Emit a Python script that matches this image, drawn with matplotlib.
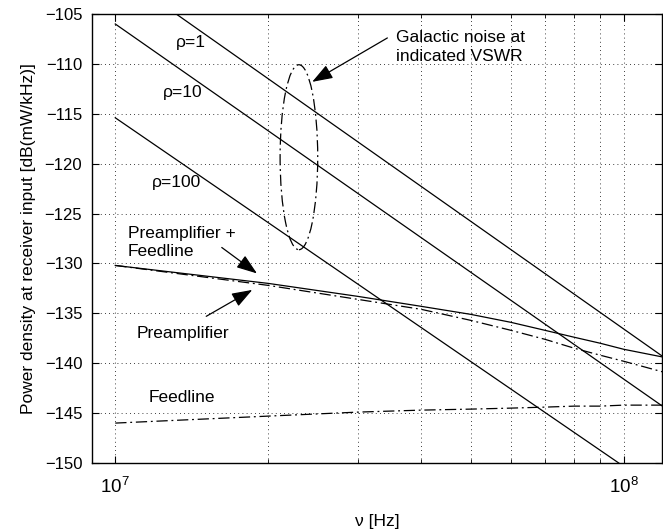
import matplotlib
matplotlib.use("Agg")
import matplotlib.pyplot as plt
from matplotlib.patches import Ellipse

plt.rcParams['font.family'] = ['Liberation Sans', 'DejaVu Sans']

# frequency grid [Hz]
freq = [1e7, 2e7, 3e7, 4e7, 5e7, 6e7, 7e7, 8e7, 9e7, 1e8, 1.2e8]

# receiver noise curves [dB(mW/kHz)]
preamp_feed = [-130.2, -132.0, -133.3, -134.3, -135.1, -135.9, -136.7, -137.4, -138.0, -138.6, -139.4]
preamp = [-130.2, -132.2, -133.6, -134.6, -135.7, -136.7, -137.6, -138.5, -139.2, -139.8, -140.9]
feedline = [-146.0, -145.3, -144.9, -144.7, -144.6, -144.5, -144.4, -144.3, -144.3, -144.2, -144.2]

# galactic noise (straight lines in log f), end points
gal_freq = [1e7, 1.2e8]
gal_rho1 = [-100.7, -139.4]
gal_rho10 = [-106.0, -144.4]
gal_rho100 = [-115.4, -153.1]

dashdot = (0, (9, 3, 1.5, 3))
fs = 12.5

fig = plt.figure(figsize=(6.63, 5.32), dpi=100)
ax = fig.add_axes([92/663, 69/532, 570/663, 449/532])

ax.plot(gal_freq, gal_rho1, color='k', lw=0.9)
ax.plot(gal_freq, gal_rho10, color='k', lw=0.9)
ax.plot(gal_freq, gal_rho100, color='k', lw=0.9)
ax.plot(freq, preamp_feed, color='k', lw=0.9)
ax.plot(freq, preamp, color='k', lw=0.9, linestyle=dashdot)
ax.plot(freq, feedline, color='k', lw=0.9, linestyle=dashdot)

ax.set_xscale('log')
ax.set_xlim(9.0e6, 1.19e8)
ax.set_ylim(-150, -105)
ax.set_yticks(range(-150, -104, 5))

ax.grid(True, which='both', axis='x', color='k', linestyle=(0, (1, 4)), lw=0.6)
ax.grid(True, which='major', axis='y', color='k', linestyle=(0, (1, 4)), lw=0.6)
ax.tick_params(which='both', direction='in', top=True, right=True)
ax.tick_params(which='major', length=5)
ax.tick_params(which='minor', length=3)
ax.tick_params(axis='y', labelsize=12, pad=7)
ax.tick_params(axis='x', labelsize=13.5, pad=10)
for s in ax.spines.values():
    s.set_linewidth(1.0)

ax.set_xlabel('ν [Hz]', fontsize=fs, labelpad=12)
ax.set_ylabel('Power density at receiver input [dB(mW/kHz)]', fontsize=fs, labelpad=6)

# labels on the curves
ax.text(1.41e7, -107.9, 'ρ=1', fontsize=fs, ha='center', va='center')
ax.text(1.36e7, -112.9, 'ρ=10', fontsize=fs, ha='center', va='center')
ax.text(1.32e7, -121.9, 'ρ=100', fontsize=fs, ha='center', va='center')
ax.text(1.06e7, -127.0, 'Preamplifier +', fontsize=fs, ha='left', va='center')
ax.text(1.06e7, -128.8, 'Feedline', fontsize=fs, ha='left', va='center')
ax.text(1.36e7, -137.0, 'Preamplifier', fontsize=fs, ha='center', va='center')
ax.text(1.35e7, -143.4, 'Feedline', fontsize=fs, ha='center', va='center')
ax.text(3.56e7, -107.4, 'Galactic noise at', fontsize=fs, ha='left', va='center')
ax.text(3.56e7, -109.3, 'indicated VSWR', fontsize=fs, ha='left', va='center')

arrow = dict(arrowstyle='-|>,head_length=0.7,head_width=0.25', color='k', lw=0.9,
             mutation_scale=18, shrinkA=0, shrinkB=0)
ax.annotate('', xy=(2.44e7, -111.8), xytext=(3.43e7, -107.4), arrowprops=arrow)
ax.annotate('', xy=(1.90e7, -131.0), xytext=(1.62e7, -128.4), arrowprops=arrow)
ax.annotate('', xy=(1.86e7, -132.65), xytext=(1.51e7, -135.3), arrowprops=arrow)

# ellipse marking the galactic noise lines
ax.add_patch(Ellipse((0.363, 0.681), 0.066, 0.412, transform=ax.transAxes,
                     fill=False, ec='k', lw=0.9, linestyle=dashdot))

fig.savefig('out.png', dpi=100)
